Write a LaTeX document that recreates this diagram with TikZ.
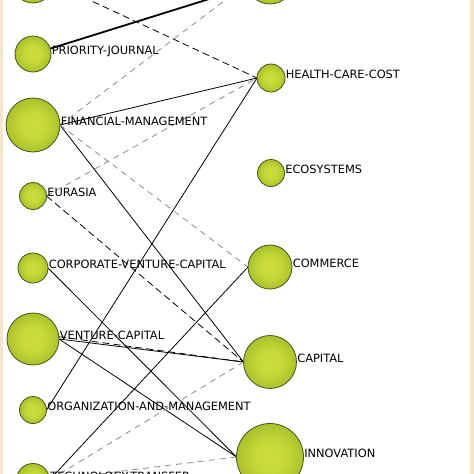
\documentclass[tikz,border=0pt]{standalone}
\usepackage{fontspec}
\setmainfont{DejaVu Sans}
\usetikzlibrary{backgrounds}

\definecolor{kwrim}{RGB}{70,85,25}
\definecolor{paper}{RGB}{244,229,206}
\pgfdeclareradialshading{kwball}{\pgfpoint{0bp}{0bp}}{%
  rgb(0bp)=(0.80,0.87,0.24); rgb(12bp)=(0.77,0.85,0.22);
  rgb(44bp)=(0.52,0.62,0.10); rgb(50bp)=(0.40,0.49,0.07); rgb(100bp)=(0.40,0.49,0.07)}
\newcommand{\kwfont}{\fontsize{11.4}{13}\selectfont}

\begin{document}
\begin{tikzpicture}[x=1pt, y=-1pt,
    kw/.style={circle, draw=kwrim, line width=0.8pt, inner sep=0pt, outer sep=0pt,
               minimum size=#1, shading=kwball},
    kwlbl/.style={anchor=base west, inner sep=0.6pt, font=\kwfont, text=black},
    link/.style={line width=0.8pt, black},
    boldlink/.style={line width=1.8pt, black},
    dashlink/.style={line width=0.8pt, black, dash pattern=on 7pt off 4pt},
    greylink/.style={line width=0.8pt, black!45, dash pattern=on 6pt off 5pt}]
    \useasboundingbox (0,0) rectangle (474,474);

    % linke Spalte
    \node[kw=40] (l0) at (33,-17) {};
    \node[kw=36, label={[kwlbl]east:PRIORITY-JOURNAL}] (l1) at (33,54) {};
    \node[kw=54, label={[kwlbl]east:FINANCIAL-MANAGEMENT}] (l2) at (33,125) {};
    \node[kw=27, label={[kwlbl]east:EURASIA}] (l3) at (33,196) {};
    \node[kw=30, label={[kwlbl]east:CORPORATE-VENTURE-CAPITAL}] (l4) at (33,268) {};
    \node[kw=52, label={[kwlbl]east:VENTURE-CAPITAL}] (l5) at (33,339) {};
    \node[kw=27, label={[kwlbl]east:ORGANIZATION-AND-MANAGEMENT}] (l6) at (33,410) {};
    \node[kw=33, label={[kwlbl]east:TECHNOLOGY-TRANSFER}] (l7) at (33,480) {};

    % rechte Spalte
    \node[kw=48] (r0) at (270,-20) {};
    \node[kw=28, label={[kwlbl]east:HEALTH-CARE-COST}] (r1) at (271,78) {};
    \node[kw=27, label={[kwlbl]east:ECOSYSTEMS}] (r2) at (271,173) {};
    \node[kw=44, label={[kwlbl]east:COMMERCE}] (r3) at (270,267) {};
    \node[kw=53, label={[kwlbl]east:CAPITAL}] (r4) at (270,362) {};
    \node[kw=67, label={[kwlbl]east:INNOVATION}] (r5) at (270,457) {};

    % Hintergrund und Verbindungen
    \begin{scope}[on background layer]
        \fill[white] (0,0) rectangle (474,474);
        \fill[paper] (0,0) rectangle (3,474);
        \fill[paper] (470,0) rectangle (474,474);
        \draw[dashlink] (l0.east) -- (r1.west);
        \draw[boldlink] (l1) -- (r0);
        \draw[greylink] (l2.east) -- (r0.190);
        \draw[link] (l2.east) -- (r1.west);
        \draw[greylink] (l3.east) -- (r1.west);
        \draw[link] (l2.east) -- (r4.west);
        \draw[greylink] (l2.east) -- (r3.west);
        \draw[link] (r1.west) -- (l6.east);
        \draw[link] (r3.west) -- (l7.east);
        \draw[dashlink] (l3.east) -- (r4.west);
        \draw[link] (l4.east) -- (r5.west);
        \draw[link] (l5.east) -- (r4.west);
        \draw[dashlink] (l5.5) -- (r4.west);
        \draw[link] (l5.east) -- (r5.west);
        \draw[greylink] (r4.west) -- (l7.east);
        \draw[greylink] (r5.west) -- (l7.east);
    \end{scope}
\end{tikzpicture}
\end{document}
